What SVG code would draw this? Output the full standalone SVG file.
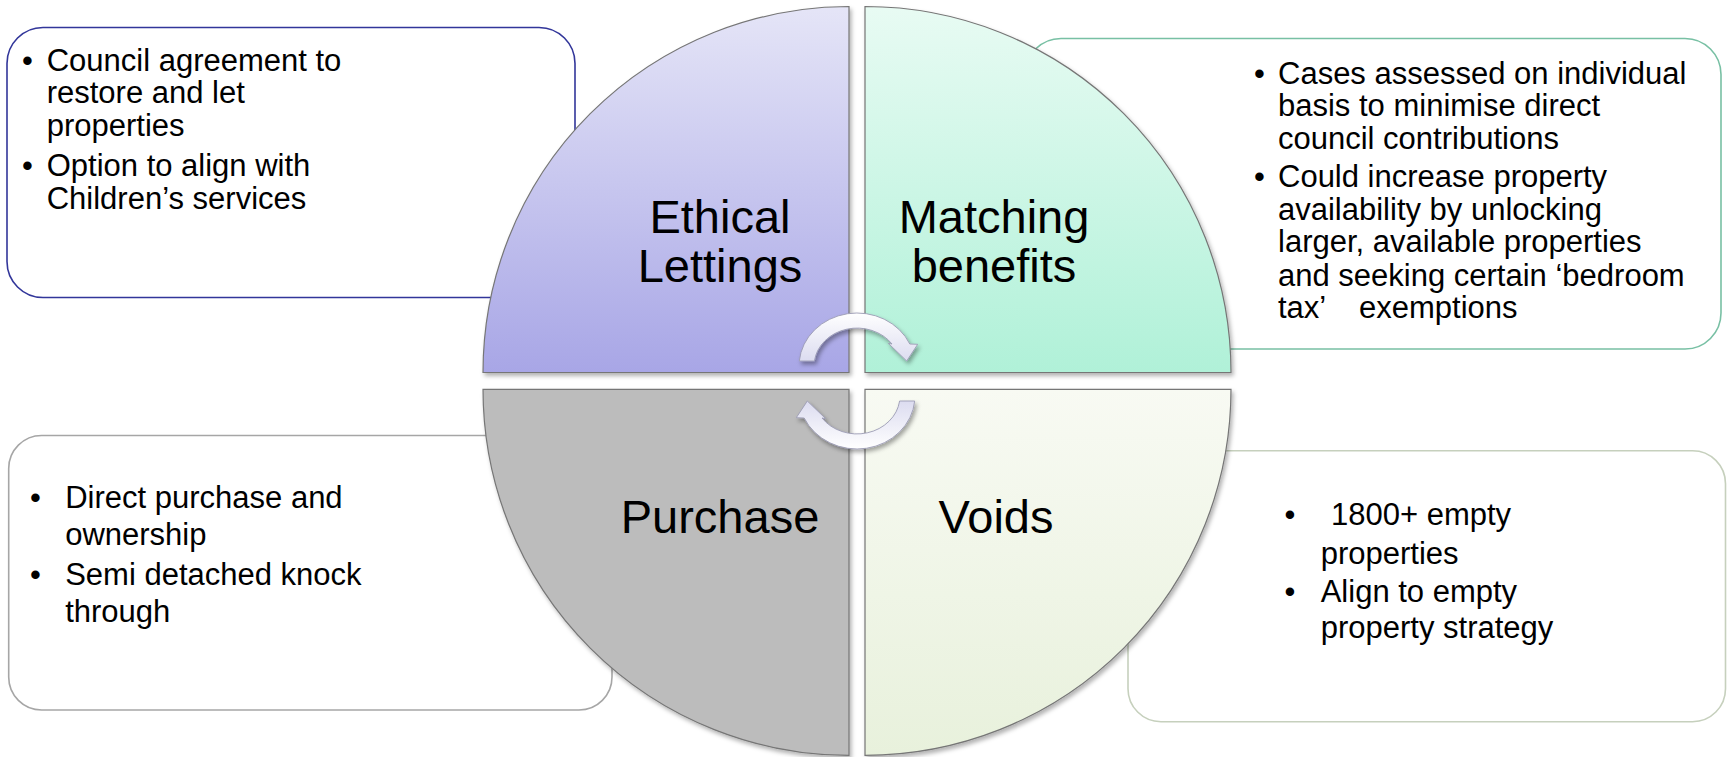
<svg xmlns="http://www.w3.org/2000/svg" xmlns:xlink="http://www.w3.org/1999/xlink" width="1727" height="757" viewBox="0 0 1727 757">
  <style>
    .body { font-family: "Liberation Sans", Arial, sans-serif; font-size: 31px; fill: #000; }
    .label { font-family: "Liberation Sans", Arial, sans-serif; font-size: 47px; fill: #000; text-anchor: middle; }
    .box { fill: #fff; stroke-width: 1.6; }
    .quad { stroke: #767676; stroke-width: 1.2; }
    .arrow { fill: url(#arrowFill); stroke: #9c9cb4; stroke-width: 0.9; }
  </style>
  <defs>
    <linearGradient id="gLettings" x1="0" y1="0" x2="0" y2="1">
      <stop offset="0" stop-color="#e5e5f7"/>
      <stop offset="1" stop-color="#a8a6e6"/>
    </linearGradient>
    <linearGradient id="gBenefits" x1="0" y1="0" x2="0" y2="1">
      <stop offset="0" stop-color="#e8fbf3"/>
      <stop offset="1" stop-color="#b0f1d8"/>
    </linearGradient>
    <linearGradient id="gVoids" x1="0" y1="0" x2="0" y2="1">
      <stop offset="0" stop-color="#f8faf3"/>
      <stop offset="1" stop-color="#e8f1dc"/>
    </linearGradient>
    <linearGradient id="arrowFill" x1="0" y1="0" x2="0" y2="1">
      <stop offset="0" stop-color="#ffffff"/>
      <stop offset="1" stop-color="#dcdcf0"/>
    </linearGradient>
    <filter id="shadow" x="-10%" y="-10%" width="120%" height="120%">
      <feDropShadow dx="2" dy="3" stdDeviation="2.2" flood-color="#000" flood-opacity="0.3"/>
    </filter>
    <filter id="arrowShadow" x="-20%" y="-20%" width="140%" height="140%">
      <feDropShadow dx="2" dy="3" stdDeviation="2" flood-color="#000" flood-opacity="0.35"/>
    </filter>
    <!-- half-turn arrow; the second copy is turned 180 degrees about the centre -->
    <path id="turnArrow" d="M 799.3 361 A 58 53 0 0 1 909.8 344 L 917.7 344.3 L 906.7 361 L 888.3 343.3 L 892 344 A 43 38 0 0 0 814.4 361 Z"/>
  </defs>

  <!-- description boxes (drawn first, sit behind the circle) -->
  <g id="box-lettings">
    <rect class="box" x="7" y="27.5" width="568" height="270" rx="36" ry="36" stroke="#32369a"/>
    <text class="body" x="22" y="70.5">•</text>
    <text class="body" x="46.7" y="70.5">Council agreement to</text>
    <text class="body" x="46.7" y="103">restore and let</text>
    <text class="body" x="46.7" y="135.5">properties</text>
    <text class="body" x="22" y="175.5">•</text>
    <text class="body" x="46.7" y="175.5">Option to align with</text>
    <text class="body" x="46.7" y="208.5">Children’s services</text>
  </g>

  <g id="box-benefits">
    <rect class="box" x="1025" y="38.5" width="696" height="310.5" rx="36" ry="36" stroke="#78c0a4"/>
    <text class="body" x="1254" y="83.5">•</text>
    <text class="body" x="1278" y="83.5">Cases assessed on individual</text>
    <text class="body" x="1278" y="116">basis to minimise direct</text>
    <text class="body" x="1278" y="148.5">council contributions</text>
    <text class="body" x="1254" y="187">•</text>
    <text class="body" x="1278" y="187">Could increase property</text>
    <text class="body" x="1278" y="219.5">availability by unlocking</text>
    <text class="body" x="1278" y="252">larger, available properties</text>
    <text class="body" x="1278" y="285.5">and seeking certain ‘bedroom</text>
    <text class="body" x="1278" y="318">tax’<tspan x="1359">exemptions</tspan></text>
  </g>

  <g id="box-purchase">
    <rect class="box" x="8.7" y="435.5" width="603.3" height="274.5" rx="33" ry="33" stroke="#a6a6a6"/>
    <text class="body" x="30" y="508">•</text>
    <text class="body" x="65.2" y="508">Direct purchase and</text>
    <text class="body" x="65.2" y="544.5">ownership</text>
    <text class="body" x="30" y="585">•</text>
    <text class="body" x="65.2" y="585">Semi detached knock</text>
    <text class="body" x="65.2" y="622">through</text>
  </g>

  <g id="box-voids">
    <rect class="box" x="1128" y="450.7" width="597.5" height="271" rx="33" ry="33" stroke="#c6d0bd"/>
    <text class="body" x="1284.5" y="525">•</text>
    <text class="body" x="1331" y="525">1800+ empty</text>
    <text class="body" x="1320.7" y="563.5">properties</text>
    <text class="body" x="1284.5" y="601.5">•</text>
    <text class="body" x="1320.7" y="601.5">Align to empty</text>
    <text class="body" x="1320.7" y="638">property strategy</text>
  </g>

  <!-- four quarter-circle segments -->
  <g id="node-lettings">
    <path class="quad" filter="url(#shadow)" fill="url(#gLettings)" d="M 849 372.5 L 483 372.5 A 366 366 0 0 1 849 6.5 Z"/>
    <text class="label" x="720" y="232.5">Ethical</text>
    <text class="label" x="720" y="281.7">Lettings</text>
  </g>

  <g id="node-benefits">
    <path class="quad" filter="url(#shadow)" fill="url(#gBenefits)" d="M 865 372.5 L 865 6.5 A 366 366 0 0 1 1231 372.5 Z"/>
    <text class="label" x="994" y="232.5">Matching</text>
    <text class="label" x="994" y="281.7">benefits</text>
  </g>

  <g id="node-purchase">
    <path class="quad" filter="url(#shadow)" fill="#bcbcbc" d="M 849 389.3 L 849 755.3 A 366 366 0 0 1 483 389.3 Z"/>
    <text class="label" x="720" y="533.3">Purchase</text>
  </g>

  <g id="node-voids">
    <path class="quad" filter="url(#shadow)" fill="url(#gVoids)" d="M 865 389.3 L 1231 389.3 A 366 366 0 0 1 865 755.3 Z"/>
    <text class="label" x="996" y="533.3">Voids</text>
  </g>

  <!-- cycle arrows in the centre -->
  <g id="connectors">
    <g filter="url(#arrowShadow)">
      <use xlink:href="#turnArrow" href="#turnArrow" class="arrow"/>
    </g>
    <g filter="url(#arrowShadow)">
      <use xlink:href="#turnArrow" href="#turnArrow" class="arrow" transform="rotate(180 857 381)"/>
    </g>
  </g>
</svg>
